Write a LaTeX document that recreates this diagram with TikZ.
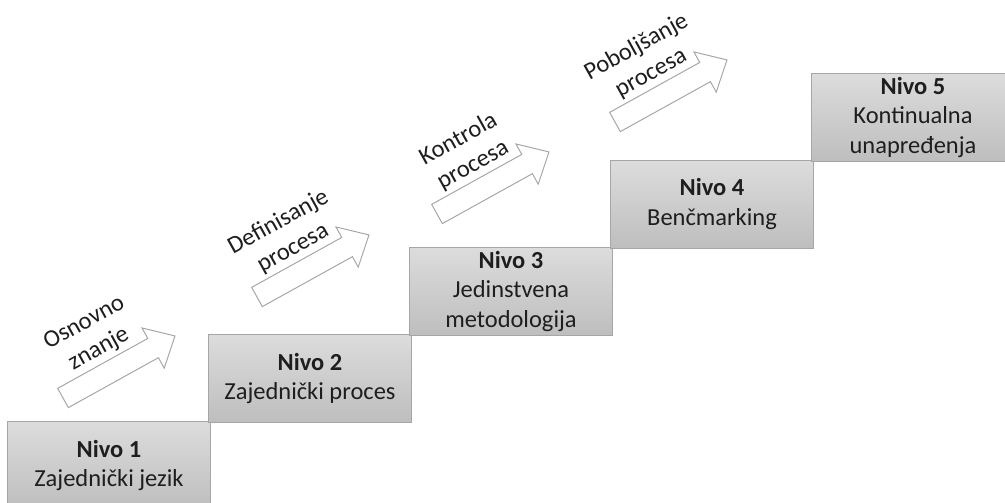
\documentclass[tikz,border=0pt]{standalone}
\usepackage{fontspec}
\setmainfont{Carlito}
\definecolor{boxline}{HTML}{A6A6A6}
\definecolor{boxtop}{HTML}{DCDCDC}
\definecolor{boxbot}{HTML}{BEBEBE}
\definecolor{txt}{HTML}{1E1E1E}
\begin{document}
\begin{tikzpicture}[x=0.025cm, y=0.025cm,
  level/.style={draw=boxline, line width=0.7pt, top color=boxtop, bottom color=boxbot,
    minimum width=5.05cm, minimum height=2.175cm, inner sep=0pt, align=center,
    text=txt, font=\fontsize{17.4}{21.3}\selectfont},
  steparrow/.style={draw=boxline, line width=0.7pt, fill=white},
  arrowtext/.style={inner sep=0pt, align=center, text=txt, font=\fontsize{17.4}{21.3}\selectfont}]

 \clip (0,0) rectangle (1005,503);

 %levels
 \foreach \i/\desc in {1/Zajednički jezik, 2/Zajednički proces, 3/{Jedinstvena\\metodologija},
                       4/Benčmarking, 5/{Kontinualna\\unapređenja}} {
         \node[level] (n\i) at (\i*201-92, \i*87-49.5) {\textbf{Nivo \i}\\\desc};
 }

 %arrows between levels
 \foreach \k/\x/\y/\name in {1/63/105/{Osnovno\\znanje}, 2/257/206/{Definisanje\\procesa},
                             3/437/289/{Kontrola\\procesa}, 4/615/381/{Poboljšanje\\procesa}} {
   \begin{scope}[shift={(\x,\y)}, rotate=29]
         \draw[steparrow] (0,11) -- (103,11) -- (103,23) -- (128,0) -- (103,-23) -- (103,-11) -- (0,-11) -- cycle;
         \node[arrowtext, rotate=29] (t\k) at (55,40) {\name};
   \end{scope}
 }

\end{tikzpicture}
\end{document}
